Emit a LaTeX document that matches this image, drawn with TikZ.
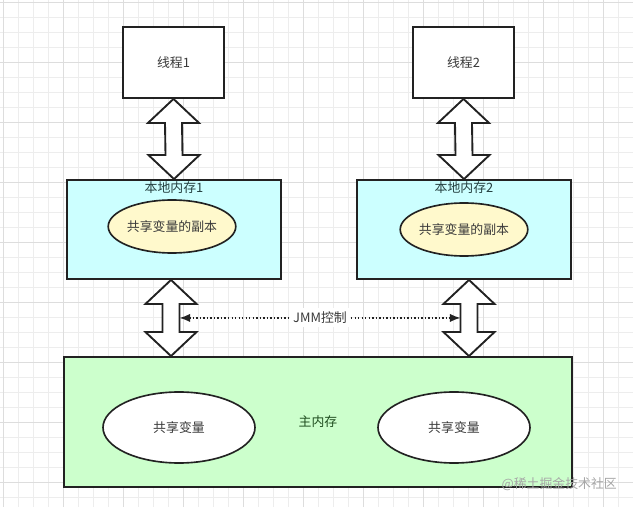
\documentclass[tikz,border=0pt]{standalone}
\usepackage{fontspec}
\newfontfamily\cjk{Noto Sans CJK SC}
\usetikzlibrary{positioning, calc, shapes.geometric, arrows.meta}
\definecolor{mycyan}{HTML}{CCFFFF}
\definecolor{mygreen}{HTML}{CCFFCC}
\definecolor{myyellow}{HTML}{FFF9CC}
\definecolor{myline}{HTML}{222222}
\definecolor{mytext}{HTML}{3A3A3A}
\definecolor{mylocaltext}{HTML}{244040}
\definecolor{mymaintext}{HTML}{1F4D1F}
\definecolor{gridminor}{HTML}{EDEDED}
\definecolor{gridmajor}{HTML}{DDDDDD}
\tikzset{
	threadnode/.style={
			rectangle,
			draw=myline,
			line width=1.6pt,
			fill=white,
			minimum width=3.03cm,
			minimum height=2.13cm,
			inner sep=0pt,
			text=mytext
		},
	localnode/.style={
			threadnode,
			fill=mycyan,
			minimum width=6.42cm,
			minimum height=2.97cm
		},
	mainnode/.style={
			threadnode,
			fill=mygreen,
			minimum width=15.24cm,
			minimum height=3.9cm,
			text=mymaintext
		},
	copynode/.style={
			ellipse,
			draw=myline,
			line width=1.4pt,
			fill=myyellow,
			minimum width=3.72cm,
			minimum height=1.59cm,
			inner sep=0pt,
			text=mytext
		},
	varnode/.style={
			copynode,
			fill=white,
			minimum width=4.56cm,
			minimum height=2.13cm
		},
	titlenode/.style={
			inner sep=0pt,
			text=mylocaltext
		},
	fatarrow/.style={
			draw=myline,
			line width=1.6pt,
			fill=white,
			line join=miter,
			to path={-- ($(\tikztostart)+(25.5,24)$) -- ($(\tikztostart)+(8.5,24)$)
				-- ($(\tikztotarget)+(8.5,-24)$) -- ($(\tikztotarget)+(25.5,-24)$)
				-- (\tikztotarget) -- ($(\tikztotarget)+(-25.5,-24)$)
				-- ($(\tikztotarget)+(-8.5,-24)$) -- ($(\tikztostart)+(-8.5,24)$)
				-- ($(\tikztostart)+(-25.5,24)$) -- cycle}
		},
	jmmline/.style={
			draw=myline,
			line width=1.2pt,
			dash pattern=on 1.2pt off 1.8pt,
			{Latex[length=9pt,width=7pt]}-{Latex[length=9pt,width=7pt]}
		}
}

\begin{document}
\begin{tikzpicture}[x=0.03cm, y=-0.03cm, every node/.style={font=\cjk\fontsize{11}{13}\selectfont}]
\useasboundingbox[fill=white] (0,0) rectangle (633,507);
\foreach \i in {0,...,42} \draw[gridminor, line width=0.6pt] (3+15*\i,0) -- (3+15*\i,507);
\foreach \i in {0,...,33} \draw[gridminor, line width=0.6pt] (0,2+15*\i) -- (633,2+15*\i);
\foreach \i in {0,...,10} \draw[gridmajor, line width=0.6pt] (3+60*\i,0) -- (3+60*\i,507);
\foreach \i in {0,...,8} \draw[gridmajor, line width=0.6pt] (0,2+60*\i) -- (633,2+60*\i);

\node[threadnode] (t1) at (173.5,62.5) {线程1};
\node[threadnode] (t2) at (463.5,62.5) {线程2};

\node[localnode] (l1) at (174,229.5) {};
\node[localnode] (l2) at (464,229.5) {};
\node[titlenode] (l1title) at ($(l1.north)+(0,9)$) {本地内存1};
\node[titlenode] (l2title) at ($(l2.north)+(0,9)$) {本地内存2};
\node[copynode] (c1) at (172,226.5) {共享变量的副本};
\node[copynode] (c2) at (464,229.5) {共享变量的副本};

\node[mainnode] (m) at (318,422) {主内存};
\node[varnode] (v1) at (179,427.5) {共享变量};
\node[varnode] (v2) at (454,427.5) {共享变量};

\coordinate (a1) at ($(l1.south)+(-3,0)$);
\coordinate (b1) at (a1 |- m.north);
\coordinate (a2) at ($(l2.south)+(5,0)$);
\coordinate (b2) at (a2 |- m.north);
\coordinate (j1) at ($(a1)+(8.5,38)$);
\coordinate (j2) at ($(a2)+(-8.5,38)$);

\draw[fatarrow] (t1.south) to (l1.north);
\draw[fatarrow] (t2.south) to (l2.north);
\draw[fatarrow] (a1) to (b1);
\draw[fatarrow] (a2) to (b2);

\draw[jmmline] (j1) -- node[fill=white, inner sep=3pt, text=mytext] (jmm) {JMM控制} (j2);

\node[text=black!35, anchor=east, font=\cjk\fontsize{11}{13}\selectfont] (wm) at (621,484) {@稀土掘金技术社区};
\end{tikzpicture}
\end{document}
